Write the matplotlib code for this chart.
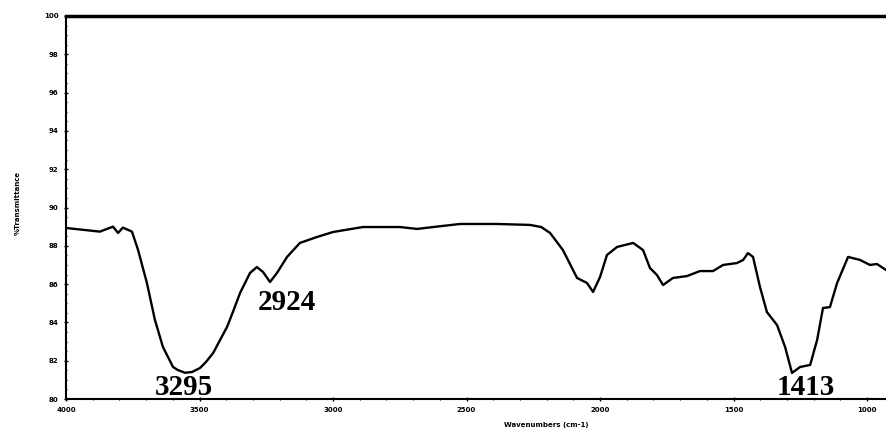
import matplotlib
matplotlib.use("Agg")
import matplotlib.pyplot as plt
from matplotlib.ticker import MultipleLocator

# spectrum
wavenumber = [4000, 3873, 3824, 3805, 3787, 3753, 3730, 3712, 3697, 3667,
              3637, 3622, 3599, 3581, 3554, 3528, 3498, 3476, 3449, 3423,
              3397, 3375, 3348, 3311, 3285, 3262, 3236, 3210, 3172, 3124,
              3060, 3000, 2888, 2749, 2685, 2625, 2524, 2386, 2262, 2220,
              2187, 2139, 2086, 2049, 2026, 2000, 1974, 1936, 1876, 1839,
              1813, 1787, 1764, 1727, 1674, 1626, 1577, 1539, 1487, 1464,
              1446, 1427, 1401, 1375, 1337, 1307, 1281, 1251, 1213, 1187,
              1165, 1139, 1112, 1071, 1026, 989, 963, 929]
transmittance = [88.93, 88.74, 89.00, 88.67, 88.95, 88.74, 87.78, 86.84, 86.06, 84.13,
                 82.72, 82.30, 81.67, 81.51, 81.37, 81.41, 81.62, 81.93, 82.40, 83.08,
                 83.76, 84.54, 85.54, 86.58, 86.89, 86.63, 86.11, 86.58, 87.42, 88.15,
                 88.46, 88.72, 88.98, 88.98, 88.88, 88.98, 89.14, 89.14, 89.09, 88.98,
                 88.67, 87.78, 86.32, 86.06, 85.59, 86.37, 87.52, 87.94, 88.15, 87.78,
                 86.84, 86.48, 85.95, 86.32, 86.42, 86.68, 86.68, 87.00, 87.10, 87.26,
                 87.62, 87.42, 85.85, 84.54, 83.86, 82.72, 81.36, 81.67, 81.78, 83.08,
                 84.75, 84.80, 86.06, 87.42, 87.26, 87.00, 87.05, 86.74]

peak_labels = ["3295", "2924", "1413"]
peak_x = [3558, 3172, 1229]
peak_y = [80.6, 85.05, 80.6]

fig = plt.figure(figsize=(8.86, 4.3), dpi=100)
ax = fig.add_axes([66/886, 31/430, 820/886, 383/430])

ax.plot(wavenumber, transmittance, color="black", lw=1.7, solid_joinstyle="round")

for lab, x, y in zip(peak_labels, peak_x, peak_y):
    ax.text(x, y, lab, ha="center", va="center", fontsize=21, fontweight="bold",
            family="Liberation Serif", clip_on=False)

ax.set_xlim(4000, 929)
ax.set_ylim(80, 100)
ax.xaxis.set_major_locator(MultipleLocator(500))
ax.xaxis.set_minor_locator(MultipleLocator(100))
ax.yaxis.set_major_locator(MultipleLocator(2))
ax.yaxis.set_minor_locator(MultipleLocator(0.5))
ax.tick_params(which="major", direction="inout", length=3, width=1, labelsize=5, pad=4)
ax.tick_params(which="minor", direction="inout", length=2, width=0.8)
for t in ax.get_xticklabels() + ax.get_yticklabels():
    t.set_fontweight("bold")

ax.spines["right"].set_visible(False)
ax.spines["top"].set_linewidth(2.5)
ax.spines["left"].set_linewidth(1.5)
ax.spines["bottom"].set_linewidth(1.5)

fig.text(546/886, 1 - 425/430, "Wavenumbers (cm-1)", ha="center", va="center",
         fontsize=5, fontweight="bold")
fig.text(18/886, 1 - 203/430, "%Transmittance", ha="center", va="center",
         fontsize=5, fontweight="bold", rotation=90)

fig.savefig("out.png", dpi=100)
